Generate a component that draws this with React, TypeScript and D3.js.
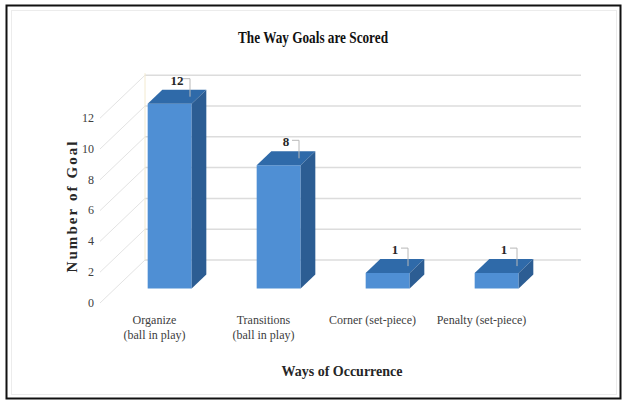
import React from "react";
import * as d3 from "d3";

const categories: string[][] = [
  ["Organize", "(ball in play)"],
  ["Transitions", "(ball in play)"],
  ["Corner (set-piece)"],
  ["Penalty (set-piece)"],
];
const values: number[] = [12, 8, 1, 1];
const yTicks: number[] = [0, 2, 4, 6, 8, 10, 12];
const title = "The Way  Goals are Scored";
const yTitle = "Number of Goal";
const xTitle = "Ways of Occurrence";

const W = 627;
const H = 401;
const SERIF = "'Liberation Serif', 'Times New Roman', 'DejaVu Serif', serif";
// 3D geometry
const frontLeft = 100;
const frontRight = 536;
const depthDX = 45;
const depthDY = 43;
const frontZeroY = 303;
const barDepthStart = 14.5;
const barDepth = 14;
const barW = 44;

export default function App() {
  const x = d3
    .scaleBand<number>()
    .domain(d3.range(categories.length))
    .range([frontLeft, frontRight]);
  const unit = 15.4;
  const y = d3.scaleLinear().domain([0, 12]).range([0, 12 * unit]);
  const ratio = depthDX / depthDY;

  const sideFront = "#4f8fd4";
  const sideTop = "#2f6aa9";
  const sideRight = "#2c5d93";

  const backY = (v: number) => frontZeroY - depthDY - y(v);
  const frontY = (v: number) => frontZeroY - y(v);

  return (
    <svg width={W} height={H} style={{ position: "absolute", left: 0, top: 0 }}>
      <rect x={0} y={0} width={W} height={H} fill="#fff" />
      <rect x={6.5} y={5.5} width={614} height={393} fill="none" stroke="#111" strokeWidth={2} />
      <rect x={11.5} y={10.5} width={605} height={384} fill="none" stroke="#ececec" strokeWidth={1} />

      <text
        x={313}
        y={43}
        textAnchor="middle"
        fontFamily={SERIF}
        fontWeight="bold"
        fontSize={17}
        textLength={150}
        lengthAdjust="spacingAndGlyphs"
        fill="#111"
      >
        {title}
      </text>

      {yTicks.map((t) => (
        <g key={t}>
          <line
            x1={frontLeft}
            y1={frontY(t)}
            x2={frontLeft + depthDX}
            y2={backY(t)}
            stroke="#e3e3e3"
            strokeWidth={1}
          />
          <line
            x1={frontLeft + depthDX}
            y1={backY(t)}
            x2={frontRight + depthDX}
            y2={backY(t)}
            stroke="#dcdcdc"
            strokeWidth={1.5}
          />
          <text
            x={94}
            y={frontY(t) + 1}
            textAnchor="end"
            dominantBaseline="middle"
            fontFamily={SERIF}
            fontSize={12}
            fill="#404040"
          >
            {t}
          </text>
        </g>
      ))}
      <line
        x1={frontLeft + depthDX}
        y1={backY(12) - 2}
        x2={frontLeft + depthDX}
        y2={backY(0)}
        stroke="#f3ead0"
        strokeWidth={1}
      />

      {values.map((v, i) => {
        const cx = (x(i) as number) + x.bandwidth() / 2;
        const fdx = barDepthStart * ratio;
        const bdx = barDepth * ratio;
        const fx = cx + fdx - barW / 2;
        const fb = frontZeroY - barDepthStart;
        const ft = fb - y(v);
        const front = `M${fx},${ft}L${fx + barW},${ft}L${fx + barW},${fb}L${fx},${fb}Z`;
        const top = `M${fx},${ft}L${fx + bdx},${ft - barDepth}L${fx + barW + bdx},${ft - barDepth}L${fx + barW},${ft}Z`;
        const right = `M${fx + barW},${ft}L${fx + barW + bdx},${ft - barDepth}L${fx + barW + bdx},${fb - barDepth}L${fx + barW},${fb}Z`;
        const topCx = cx + fdx + bdx / 2;
        const topCy = ft - barDepth / 2;
        const leaderX = topCx + 13;
        const labelX = topCx;
        const labelY = topCy - 15;
        return (
          <g key={i}>
            <path d={front} fill={sideFront} />
            <path d={top} fill={sideTop} />
            <path d={right} fill={sideRight} />
            <path
              d={`M${labelX + 6},${labelY - 3}L${leaderX},${labelY - 3}L${leaderX},${topCy}`}
              fill="none"
              stroke="#b8b8b8"
              strokeWidth={1}
            />
            <text
              x={labelX}
              y={labelY}
              textAnchor="middle"
              dominantBaseline="middle"
              fontFamily={SERIF}
              fontWeight="bold"
              fontSize={13}
              fill="#262626"
            >
              {v}
            </text>
          </g>
        );
      })}

      {categories.map((lines, i) => {
        const cx = (x(i) as number) + x.bandwidth() / 2;
        return (
          <text
            key={i}
            x={cx}
            y={324}
            textAnchor="middle"
            fontFamily={SERIF}
            fontSize={12}
            fill="#404040"
          >
            {lines.map((l, j) => (
              <tspan key={j} x={cx} dy={j === 0 ? 0 : 15}>
                {l}
              </tspan>
            ))}
          </text>
        );
      })}

      <text
        x={342}
        y={376}
        textAnchor="middle"
        fontFamily={SERIF}
        fontWeight="bold"
        fontSize={14}
        fill="#262626"
      >
        {xTitle}
      </text>

      <text
        transform="translate(77,207) rotate(-90)"
        textAnchor="middle"
        fontFamily={SERIF}
        fontWeight="bold"
        fontSize={15}
        textLength={131}
        lengthAdjust="spacing"
        fill="#262626"
      >
        {yTitle}
      </text>
    </svg>
  );
}
